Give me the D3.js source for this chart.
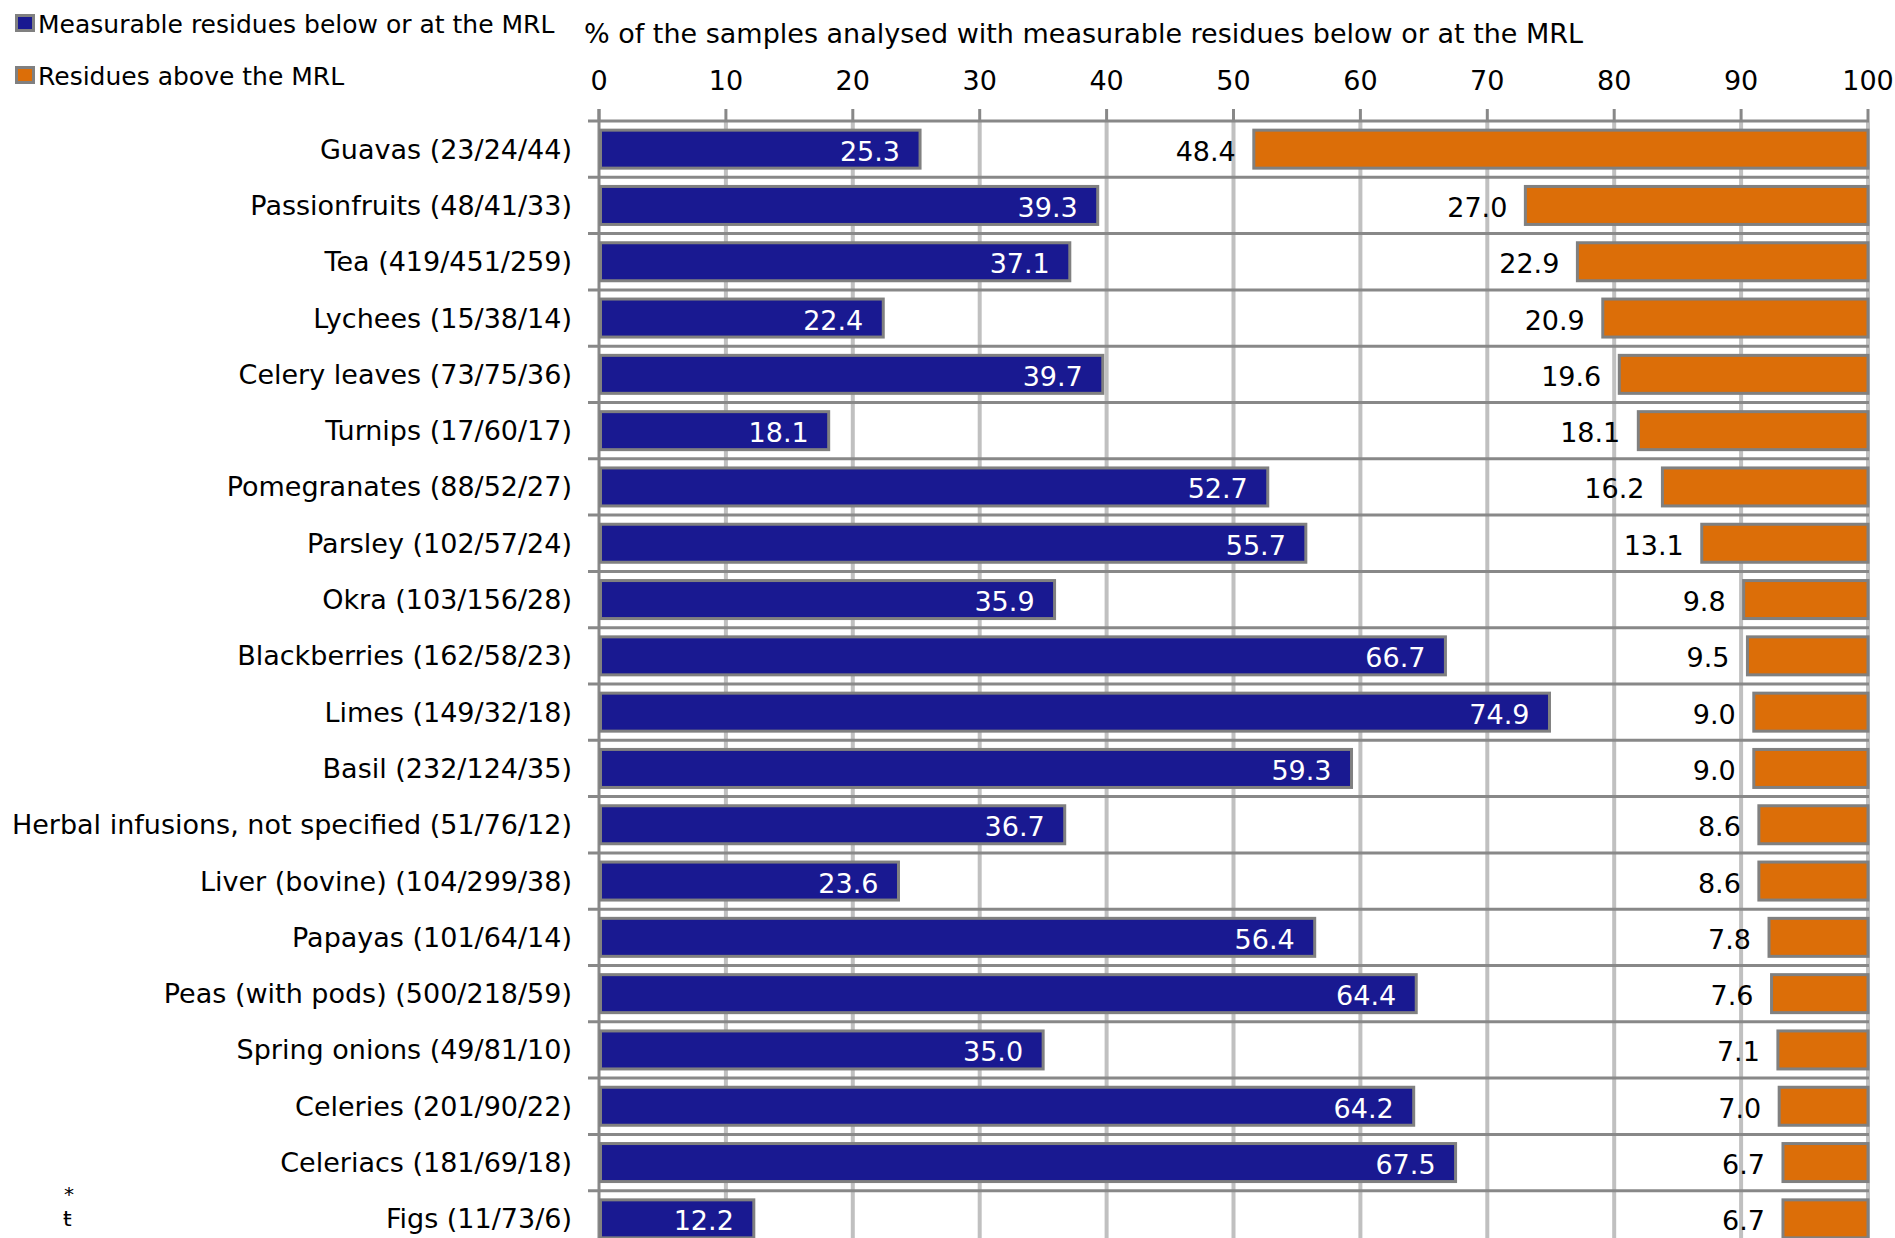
<!DOCTYPE html>
<html>
<head>
<meta charset="utf-8">
<script src="https://cdn.jsdelivr.net/npm/d3@7"></script>
<style>
  body { margin: 0; background: #fff; }
  text { font-family: "DejaVu Sans", sans-serif; font-size: 27px; fill: #000; }
</style>
</head>
<body>
<div id="chart"></div>
<script>
// categories, with sample counts as printed on the chart
const categories = [
  'Guavas (23/24/44)', 'Passionfruits (48/41/33)', 'Tea (419/451/259)', 'Lychees (15/38/14)',
  'Celery leaves (73/75/36)', 'Turnips (17/60/17)', 'Pomegranates (88/52/27)', 'Parsley (102/57/24)',
  'Okra (103/156/28)', 'Blackberries (162/58/23)', 'Limes (149/32/18)', 'Basil (232/124/35)',
  'Herbal infusions, not specified (51/76/12)', 'Liver (bovine) (104/299/38)', 'Papayas (101/64/14)',
  'Peas (with pods) (500/218/59)', 'Spring onions (49/81/10)', 'Celeries (201/90/22)',
  'Celeriacs (181/69/18)', 'Figs (11/73/6)'
];
const belowMRL = [25.3, 39.3, 37.1, 22.4, 39.7, 18.1, 52.7, 55.7, 35.9, 66.7,
                  74.9, 59.3, 36.7, 23.6, 56.4, 64.4, 35.0, 64.2, 67.5, 12.2];
const aboveMRL = [48.4, 27.0, 22.9, 20.9, 19.6, 18.1, 16.2, 13.1, 9.8, 9.5,
                  9.0, 9.0, 8.6, 8.6, 7.8, 7.6, 7.1, 7.0, 6.7, 6.7];
const ticks = [0, 10, 20, 30, 40, 50, 60, 70, 80, 90, 100];
const legendLabels = ['Measurable residues below or at the MRL', 'Residues above the MRL'];
const axisTitle = '% of the samples analysed with measurable residues below or at the MRL';

const width = 1895;
const height = 1238;
const blue = '#191991';
const orange = '#dc6e08';
const edge = '#808080';

const svg = d3.select('#chart')
  .append('svg')
  .attr('width', width)
  .attr('height', height);

const x = d3.scaleLinear().domain([0, 100]).range([599, 1868]);
const y = d3.scaleBand().domain(categories).range([121, 121 + 56.3 * categories.length])
  .paddingInner(0.325).paddingOuter(0.1625);
const step = y.step();
const plotTop = y.range()[0];

// light vertical grid lines
svg.append('g')
  .selectAll('line')
  .data(ticks.slice(1))
  .enter().append('line')
  .attr('x1', d => x(d)).attr('x2', d => x(d))
  .attr('y1', plotTop).attr('y2', height)
  .attr('stroke', '#c0c0c0')
  .attr('stroke-width', 4);

// horizontal separators between rows
svg.append('g')
  .selectAll('line')
  .data(d3.range(categories.length + 1))
  .enter().append('line')
  .attr('x1', 588).attr('x2', x(100) + 1)
  .attr('y1', i => plotTop + i * step).attr('y2', i => plotTop + i * step)
  .attr('stroke', '#888')
  .attr('stroke-width', 3);

// tick marks above the plot
svg.append('g')
  .selectAll('line')
  .data(ticks)
  .enter().append('line')
  .attr('x1', d => x(d)).attr('x2', d => x(d))
  .attr('y1', 109).attr('y2', plotTop)
  .attr('stroke', '#888')
  .attr('stroke-width', 3);

// axis line
svg.append('line')
  .attr('x1', x(0)).attr('x2', x(0))
  .attr('y1', 109).attr('y2', height)
  .attr('stroke', '#888')
  .attr('stroke-width', 3);

// tick labels
svg.append('g')
  .selectAll('text')
  .data(ticks)
  .enter().append('text')
  .attr('x', d => x(d))
  .attr('y', 80)
  .attr('text-anchor', 'middle')
  .attr('dominant-baseline', 'central')
  .text(d => d);

svg.append('text')
  .attr('x', 584)
  .attr('y', 33)
  .attr('dominant-baseline', 'central')
  .text(axisTitle);

// blue bars (below or at MRL)
svg.append('g')
  .selectAll('rect')
  .data(belowMRL)
  .enter().append('rect')
  .attr('x', x(0) + 1.5)
  .attr('y', (d, i) => y(categories[i]))
  .attr('width', d => x(d) - x(0) - 1.5)
  .attr('height', y.bandwidth())
  .attr('fill', blue)
  .attr('stroke', edge)
  .attr('stroke-width', 3);

svg.append('g')
  .selectAll('text')
  .data(belowMRL)
  .enter().append('text')
  .attr('x', d => x(d) - 20)
  .attr('y', (d, i) => y(categories[i]) + y.bandwidth() / 2 + 2)
  .attr('text-anchor', 'end')
  .attr('dominant-baseline', 'central')
  .style('fill', '#fff')
  .text(d => d.toFixed(1));

// orange bars (above MRL), anchored at 100
svg.append('g')
  .selectAll('rect')
  .data(aboveMRL)
  .enter().append('rect')
  .attr('x', d => x(100 - d))
  .attr('y', (d, i) => y(categories[i]))
  .attr('width', d => x(100) - x(100 - d))
  .attr('height', y.bandwidth())
  .attr('fill', orange)
  .attr('stroke', edge)
  .attr('stroke-width', 3);

svg.append('g')
  .selectAll('text')
  .data(aboveMRL)
  .enter().append('text')
  .attr('x', d => x(100 - d) - 18)
  .attr('y', (d, i) => y(categories[i]) + y.bandwidth() / 2 + 2)
  .attr('text-anchor', 'end')
  .attr('dominant-baseline', 'central')
  .text(d => d.toFixed(1));

// category labels
svg.append('g')
  .selectAll('text')
  .data(categories)
  .enter().append('text')
  .attr('x', 572)
  .attr('y', d => y(d) + y.bandwidth() / 2)
  .attr('text-anchor', 'end')
  .attr('dominant-baseline', 'central')
  .text(d => d);

// legend
const legend = svg.append('g')
  .selectAll('g')
  .data(legendLabels)
  .enter().append('g')
  .attr('transform', (d, i) => `translate(0, ${i * 52})`);

legend.append('rect')
  .attr('x', 16.5).attr('y', 15.5)
  .attr('width', 17).attr('height', 15)
  .attr('fill', (d, i) => i === 0 ? blue : orange)
  .attr('stroke', edge)
  .attr('stroke-width', 3);

legend.append('text')
  .attr('x', 38)
  .attr('y', 24)
  .attr('dominant-baseline', 'central')
  .style('font-size', '25px')
  .text(d => d);

// stray footnote marks, bottom left
svg.append('text').attr('x', 64).attr('y', 1201).style('font-size', '20px').text('*');
svg.append('text').attr('x', 63).attr('y', 1226).style('font-size', '22px').text('ŧ');
</script>
</body>
</html>
